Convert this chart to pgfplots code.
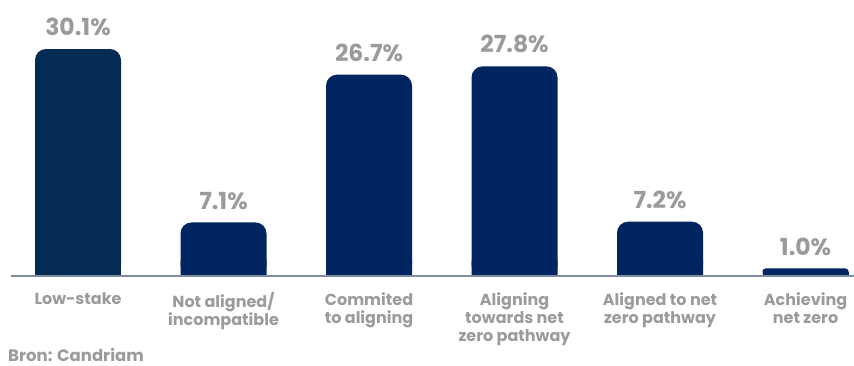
\documentclass[border=0pt]{standalone}
\usepackage{fontspec}
\setmainfont{Poppins}
\usepackage{pgfplots}
\pgfplotsset{compat=1.18}
\definecolor{barA}{RGB}{4,44,82}
\definecolor{barB}{RGB}{0,37,96}
\definecolor{txt}{RGB}{155,155,155}
\definecolor{axln}{RGB}{128,140,160}
\begin{document}
\begin{tikzpicture}
\begin{axis}[
  scale only axis, width=843pt, height=276pt,
  xmin=-0.4605, xmax=5.333, ymin=0, ymax=36.6,
  axis x line*=bottom, axis y line=none,
  x axis line style={draw=axln, line width=1.3pt},
  axis on top=true,
  xtick={0,1,2,3,4,5},
  xticklabels={{Low-stake},{Not aligned/\\incompatible},{Commited\\to aligning},{Aligning\\towards net\\zero pathway},{Aligned to net\\zero pathway},{Achieving\\net zero}},
  major tick length=0pt,
  xticklabel style={font=\fontsize{16}{18}\selectfont\bfseries, text=txt, align=center, anchor=north, inner sep=0pt, yshift=-16pt},
  ytick=\empty,
  ybar, bar width=86pt, bar shift=0pt,
  clip=false,
  /pgf/number format/assume math mode=true,
  every node near coord/.append style={font=\fontsize{23.5}{23.5}\selectfont\bfseries, text=txt, inner sep=0pt, anchor=south, yshift=13pt},
  nodes near coords={\pgfmathprintnumber[fixed,precision=1,fixed zerofill]{\pgfplotspointmeta}\%},
]
\addplot[fill=barA, draw=none, nodes near coords=\empty] coordinates {(0,2)};
\addplot[fill=barA, draw=none, rounded corners=11pt] coordinates {(0,30.1)};
\addplot[fill=barB, draw=none, nodes near coords=\empty] coordinates {(1,2) (2,2) (3,2) (4,2)};
\addplot[fill=barB, draw=none, rounded corners=11pt] coordinates {(1,7.1) (2,26.7) (3,27.8) (4,7.2)};
\addplot[fill=barB, draw=none, nodes near coords=\empty] coordinates {(5,0.5)};
\addplot[fill=barB, draw=none, rounded corners=3pt] coordinates {(5,1.0)};
\end{axis}
\node[anchor=west, font=\fontsize{16.5}{18}\selectfont\bfseries, text=txt, inner sep=0pt] at (-3pt,-79pt) {Bron: Candriam};
\pgfresetboundingbox
\path[use as bounding box] (-11pt,-89pt) rectangle (843pt,276pt);
\end{tikzpicture}
\end{document}
